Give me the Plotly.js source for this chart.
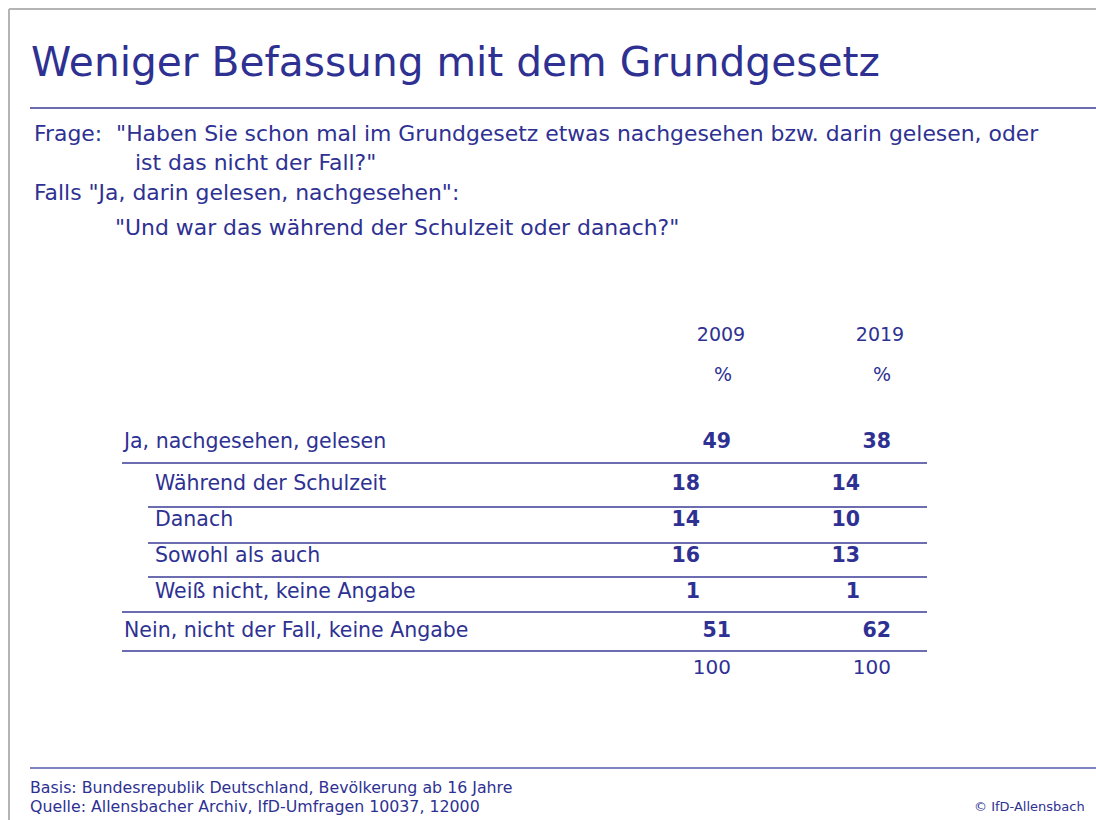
<!DOCTYPE html>
<html>
<head>
<meta charset="utf-8">
<script src="https://cdn.plot.ly/plotly-3.0.1.min.js"></script>
<style>
  html, body { margin: 0; padding: 0; background: #ffffff; }
  #chart { width: 1096px; height: 820px; }
</style>
</head>
<body>
<div id="chart"></div>
<script>
// ---------- DATA ----------
const titleText = "Weniger Befassung mit dem Grundgesetz";
const questionLines = [
  "Frage:  \"Haben Sie schon mal im Grundgesetz etwas nachgesehen bzw. darin gelesen, oder",
  "ist das nicht der Fall?\"",
  "Falls \"Ja, darin gelesen, nachgesehen\":",
  "\"Und war das während der Schulzeit oder danach?\""
];
const years = ["2009", "2019"];
const unitLabel = "%";
const rowLabels = [
  "Ja, nachgesehen, gelesen",
  "Während der Schulzeit",
  "Danach",
  "Sowohl als auch",
  "Weiß nicht, keine Angabe",
  "Nein, nicht der Fall, keine Angabe"
];
const rowIsSub = [false, true, true, true, true, false];
const values2009 = [49, 18, 14, 16, 1, 51];
const values2019 = [38, 14, 10, 13, 1, 62];
const totals = [100, 100];
const footerLines = [
  "Basis: Bundesrepublik Deutschland, Bevölkerung ab 16 Jahre",
  "Quelle: Allensbacher Archiv, IfD-Umfragen 10037, 12000"
];
const copyrightText = "© IfD-Allensbach";

// ---------- LAYOUT (pixel geometry) ----------
const W = 1096, H = 820;
const FONT = "DejaVu Sans, sans-serif";
const BLUE = "#2e3192";
const LINE = "#3a3d96";
const rowY = [443, 485, 521, 557, 593, 632];
const totalY = 669;
const yearHeaderY = 336, unitY = 376;
const labelXMain = 124, labelXSub = 155;
const colCenter = [721, 880];
const colRightMain = [731, 891];
const colRightSub = [700, 860];
const series = [values2009, values2019];

const traces = [];

// Row labels
traces.push({
  type: "scatter", mode: "text", hoverinfo: "skip", showlegend: false,
  x: rowLabels.map((_, i) => rowIsSub[i] ? labelXSub : labelXMain),
  y: rowY,
  text: rowLabels,
  textposition: "middle right",
  textfont: { family: FONT, size: 20.5, color: BLUE }
});

// Year headers and unit
traces.push({
  type: "scatter", mode: "text", hoverinfo: "skip", showlegend: false,
  x: colCenter.concat(colCenter.map(c => c + 2)),
  y: years.map(() => yearHeaderY).concat(years.map(() => unitY)),
  text: years.concat(years.map(() => unitLabel)),
  textposition: "middle center",
  textfont: { family: FONT, size: 19, color: BLUE }
});

// Values (bold), right aligned
series.forEach((vals, c) => {
  traces.push({
    type: "scatter", mode: "text", hoverinfo: "skip", showlegend: false,
    x: vals.map((_, i) => rowIsSub[i] ? colRightSub[c] : colRightMain[c]),
    y: rowY,
    text: vals.map(v => "<b>" + v + "</b>"),
    textposition: "middle left",
    textfont: { family: FONT, size: 20.5, color: BLUE }
  });
});

// Totals
traces.push({
  type: "scatter", mode: "text", hoverinfo: "skip", showlegend: false,
  x: colRightMain,
  y: totals.map(() => totalY),
  text: totals.map(String),
  textposition: "middle left",
  textfont: { family: FONT, size: 20, color: BLUE }
});

// Separator lines
const shapes = [];
// outer grey frame (top and left)
shapes.push({ type: "line", xref: "x", yref: "y", x0: 9, x1: W + 5, y0: 9, y1: 9, line: { color: "#b4b4b4", width: 2 } });
shapes.push({ type: "line", xref: "x", yref: "y", x0: 9, x1: 9, y0: 9, y1: H + 5, line: { color: "#b4b4b4", width: 2 } });
// title rule and footer rule
shapes.push({ type: "line", xref: "x", yref: "y", x0: 30, x1: W + 5, y0: 108, y1: 108, line: { color: LINE, width: 1.3 } });
shapes.push({ type: "line", xref: "x", yref: "y", x0: 30, x1: W + 5, y0: 768, y1: 768, line: { color: "#5558a8", width: 1.3 } });
// table rules: below each row
const ruleY = [463, 507, 543, 577, 612, 651];
const ruleX0 = [122, 148, 148, 148, 122, 122];
const tableRight = 927;
ruleY.forEach((y, i) => {
  shapes.push({
    type: "line", xref: "x", yref: "y",
    x0: ruleX0[i], x1: tableRight, y0: y, y1: y,
    line: { color: LINE, width: 1.3 }
  });
});

const annotations = [];
annotations.push({
  xref: "x", yref: "y", x: 29, y: 62, xanchor: "left", yanchor: "middle",
  text: titleText, showarrow: false,
  font: { family: FONT, size: 40.7, color: BLUE }
});
const qX = [32, 133, 32, 113];
const qY = [133, 162, 192, 227];
questionLines.forEach((t, i) => {
  annotations.push({
    xref: "x", yref: "y", x: qX[i], y: qY[i], xanchor: "left", yanchor: "middle",
    text: t, showarrow: false,
    font: { family: FONT, size: 21.9, color: BLUE }
  });
});
const fY = [787, 806];
footerLines.forEach((t, i) => {
  annotations.push({
    xref: "x", yref: "y", x: 28, y: fY[i], xanchor: "left", yanchor: "middle",
    text: t, showarrow: false,
    font: { family: FONT, size: 15.8, color: BLUE }
  });
});
annotations.push({
  xref: "x", yref: "y", x: 1087, y: 806, xanchor: "right", yanchor: "middle",
  text: copyrightText, showarrow: false,
  font: { family: FONT, size: 13, color: BLUE }
});

const layout = {
  width: W, height: H,
  margin: { l: 0, r: 0, t: 0, b: 0, pad: 0 },
  paper_bgcolor: "#ffffff", plot_bgcolor: "#ffffff",
  xaxis: { range: [0, W], visible: false, fixedrange: true },
  yaxis: { range: [H, 0], visible: false, fixedrange: true },
  shapes: shapes,
  annotations: annotations,
  showlegend: false
};

Plotly.newPlot("chart", traces, layout, { displayModeBar: false, staticPlot: true });
</script>
</body>
</html>
